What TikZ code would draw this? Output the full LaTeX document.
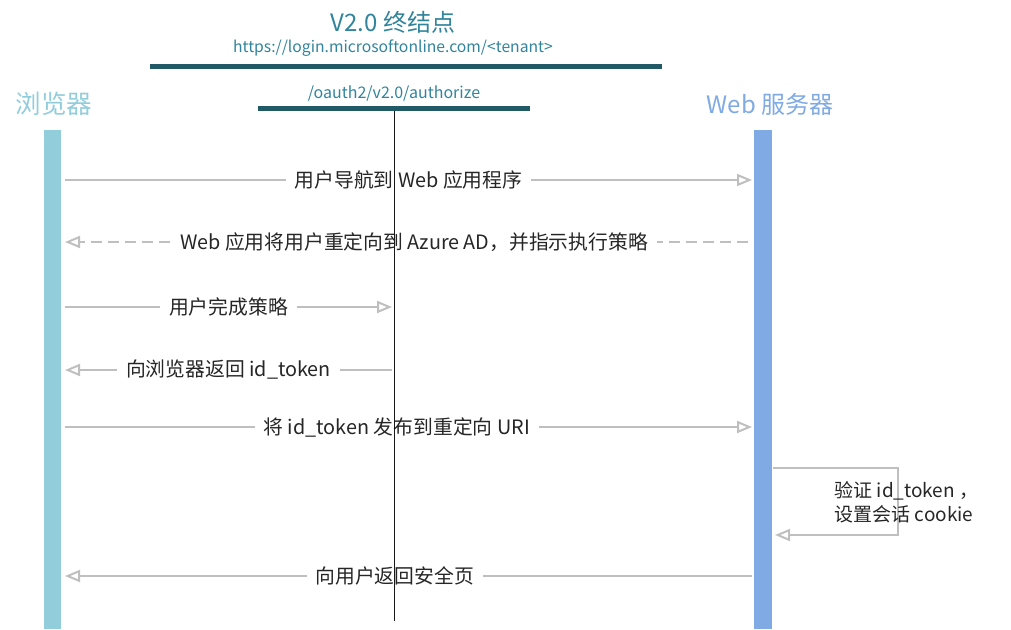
\documentclass[tikz,border=0pt]{standalone}
\usepackage{fontspec}
\setmainfont{Noto Sans CJK SC}
\usetikzlibrary{arrows.meta,positioning}
\definecolor{titleteal}{HTML}{31849B}
\definecolor{bardark}{HTML}{215967}
\definecolor{browsercol}{HTML}{92CDDC}
\definecolor{servercol}{HTML}{7FAAE3}
\definecolor{msggray}{HTML}{BFBFBF}
\definecolor{msgtext}{HTML}{262626}
\tikzstyle{msg} = [draw=msggray, line width=2pt, -{Triangle[open,length=15pt,width=12pt]}]
\tikzstyle{reply} = [msg, dash pattern=on 11pt off 6pt]
\tikzstyle{msglabel} = [fill=white, text=msgtext, font=\fontsize{19.8}{22}\selectfont, inner xsep=9pt, inner ysep=2pt]
\tikzstyle{lifeline} = [draw=none, minimum width=17pt, minimum height=499pt, inner sep=0pt]
\tikzstyle{endbar} = [fill=bardark, minimum height=5pt, inner sep=0pt]
\tikzstyle{header} = [font=\fontsize{24}{28}\selectfont]

\begin{document}
\begin{tikzpicture}[x=1pt, y=-1pt]
    \useasboundingbox (0,0) rectangle (1011,629);
    % endpoint header
    \node[header, text=titleteal] (title) at (393,22) {V2.0 终结点};
    \node[text=titleteal, font=\fontsize{15.7}{19}\selectfont] (url) at (393,48) {https://login.microsoftonline.com/<tenant>};
    \node[endbar, minimum width=512pt] (basebar) at (406,66.5) {};
    \node[text=titleteal, font=\fontsize{16}{19}\selectfont] (authpath) at (394,94) {/oauth2/v2.0/authorize};
    \node[endbar, minimum width=272pt] (authbar) at (394,108.5) {};

    % the two parties
    \node[header, text=browsercol, font=\fontsize{25.5}{28}\selectfont] (browser) at (54,104) {浏览器};
    \node[header, text=servercol] (server) at (770,104) {Web 服务器};
    \node[lifeline, fill=browsercol] (browserline) at (52.5,379.5) {};
    \node[lifeline, fill=servercol, minimum width=18pt] (serverline) at (763,379.5) {};

    % arrow ends on each lifeline
    \foreach \y/\n in {180/1, 242/2, 307/3, 370/4, 427/5, 576/7}{
        \coordinate (B\n) at (65,\y);
        \coordinate (S\n) at (752,\y);
        \coordinate (M\n) at (392,\y);
    }
    \coordinate (S2) at (748,242);

    % messages
    \path[msg] (B1) -- node[msglabel] {用户导航到 Web 应用程序} (S1);
    \path[reply] (S2) -- node[msglabel, pos=0.489] {Web 应用将用户重定向到 Azure AD，并指示执行策略} (B2);
    \path[msg] (B3) -- node[msglabel] {用户完成策略} (M3);
    \path[msg] (M4) -- node[msglabel] {向浏览器返回 id\_token} (B4);
    \path[msg] (B5) -- node[msglabel, pos=0.483] {将 id\_token 发布到重定向 URI} (S5);

    % server checks the token
    \coordinate (V1) at (773,468);
    \coordinate (V2) at (775,535);
    \path[msg] (V1) -- ++(125,0) |- (V2);
    \node[anchor=west, align=left, text=msgtext, font=\fontsize{19}{24}\selectfont] (verify) at (831,502) {验证 id\_token ，\\设置会话 cookie};

    \path[msg] (S7) -- node[msglabel, pos=0.52] {向用户返回安全页} (B7);

    % authorize lifeline on top
    \coordinate (authend) at (394,621);
    \draw[line width=1pt, black!90] (authbar.south) -- (authend);
\end{tikzpicture}
\end{document}
